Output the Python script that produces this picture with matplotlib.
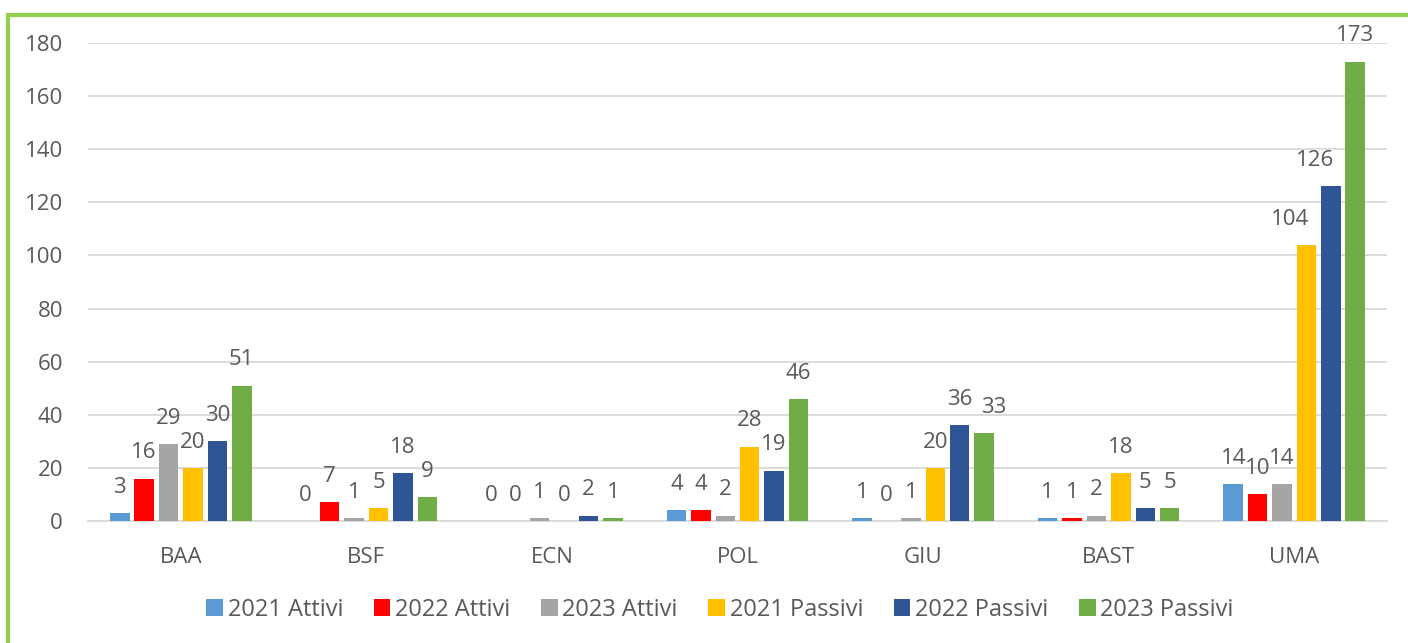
import matplotlib
matplotlib.use("Agg")
import matplotlib.pyplot as plt
import numpy as np
from matplotlib.lines import Line2D

categories = ["BAA", "BSF", "ECN", "POL", "GIU", "BAST", "UMA"]
series_names = ["2021 Attivi", "2022 Attivi", "2023 Attivi",
                "2021 Passivi", "2022 Passivi", "2023 Passivi"]
attivi_2021 = [3, 0, 0, 4, 1, 1, 14]
attivi_2022 = [16, 7, 0, 4, 0, 1, 10]
attivi_2023 = [29, 1, 1, 2, 1, 2, 14]
passivi_2021 = [20, 5, 0, 28, 20, 18, 104]
passivi_2022 = [30, 18, 2, 19, 36, 5, 126]
passivi_2023 = [51, 9, 1, 46, 33, 5, 173]
series_values = [attivi_2021, attivi_2022, attivi_2023,
                 passivi_2021, passivi_2022, passivi_2023]
colors = ["#5B9BD5", "#FF0000", "#A5A5A5", "#FFC000", "#2F5597", "#70AD47"]
yticks = list(range(0, 181, 20))

# horizontal nudges (points) of some data labels to avoid overlaps, as in the source
label_nudge = {(3, 6): -11.5, (4, 6): -11, (5, 4): 7}

plt.rcParams['font.family'] = ['Open Sans', 'DejaVu Sans']
text_color = "#595959"

fig = plt.figure(figsize=(14.08, 6.43), dpi=100)
ax = fig.add_axes([88/1408, 1 - 521/643, (1387-88)/1408, (521-43)/643])

x = np.arange(len(categories))
step = 0.1315
width = 0.105
for i, (name, vals, c) in enumerate(zip(series_names, series_values, colors)):
    off = (i - 2.5) * step
    ax.bar(x + off, vals, width, color=c, label=name, zorder=3)
    for j, (xi, v) in enumerate(zip(x + off, vals)):
        dx = label_nudge.get((i, j), 0)
        ax.annotate(str(v), (xi, v), xytext=(dx, 18.5), textcoords="offset points",
                    ha="center", va="center", fontsize=16, color=text_color)

ax.set_xlim(-0.5, len(categories) - 0.5)
ax.set_ylim(0, 180)
ax.set_yticks(yticks)
ax.set_xticks(x)
ax.set_xticklabels(categories)
ax.tick_params(axis="both", length=0, labelsize=16, colors=text_color)
ax.tick_params(axis="y", pad=18)
ax.tick_params(axis="x", pad=19)
ax.grid(axis="y", color="#D9D9D9", linewidth=1.3, zorder=0)
for s in ["top", "right", "left"]:
    ax.spines[s].set_visible(False)
ax.spines["bottom"].set_color("#D9D9D9")
ax.spines["bottom"].set_linewidth(1.3)

leg = fig.legend(loc="center", bbox_to_anchor=(720/1408, 1 - 610/643), ncol=6,
                 frameon=False, fontsize=17, handlelength=0.7, handleheight=0.7,
                 handletextpad=0.2, columnspacing=1.3, labelcolor=text_color)

# green border (top and left)
fig.add_artist(Line2D([8/1408, 8/1408], [0, 1 - 15/643], transform=fig.transFigure,
                      color="#92D050", linewidth=3, solid_capstyle="projecting"))
fig.add_artist(Line2D([8/1408, 1], [1 - 15/643, 1 - 15/643], transform=fig.transFigure,
                      color="#92D050", linewidth=3, solid_capstyle="projecting"))

fig.savefig("out.png", dpi=100)
